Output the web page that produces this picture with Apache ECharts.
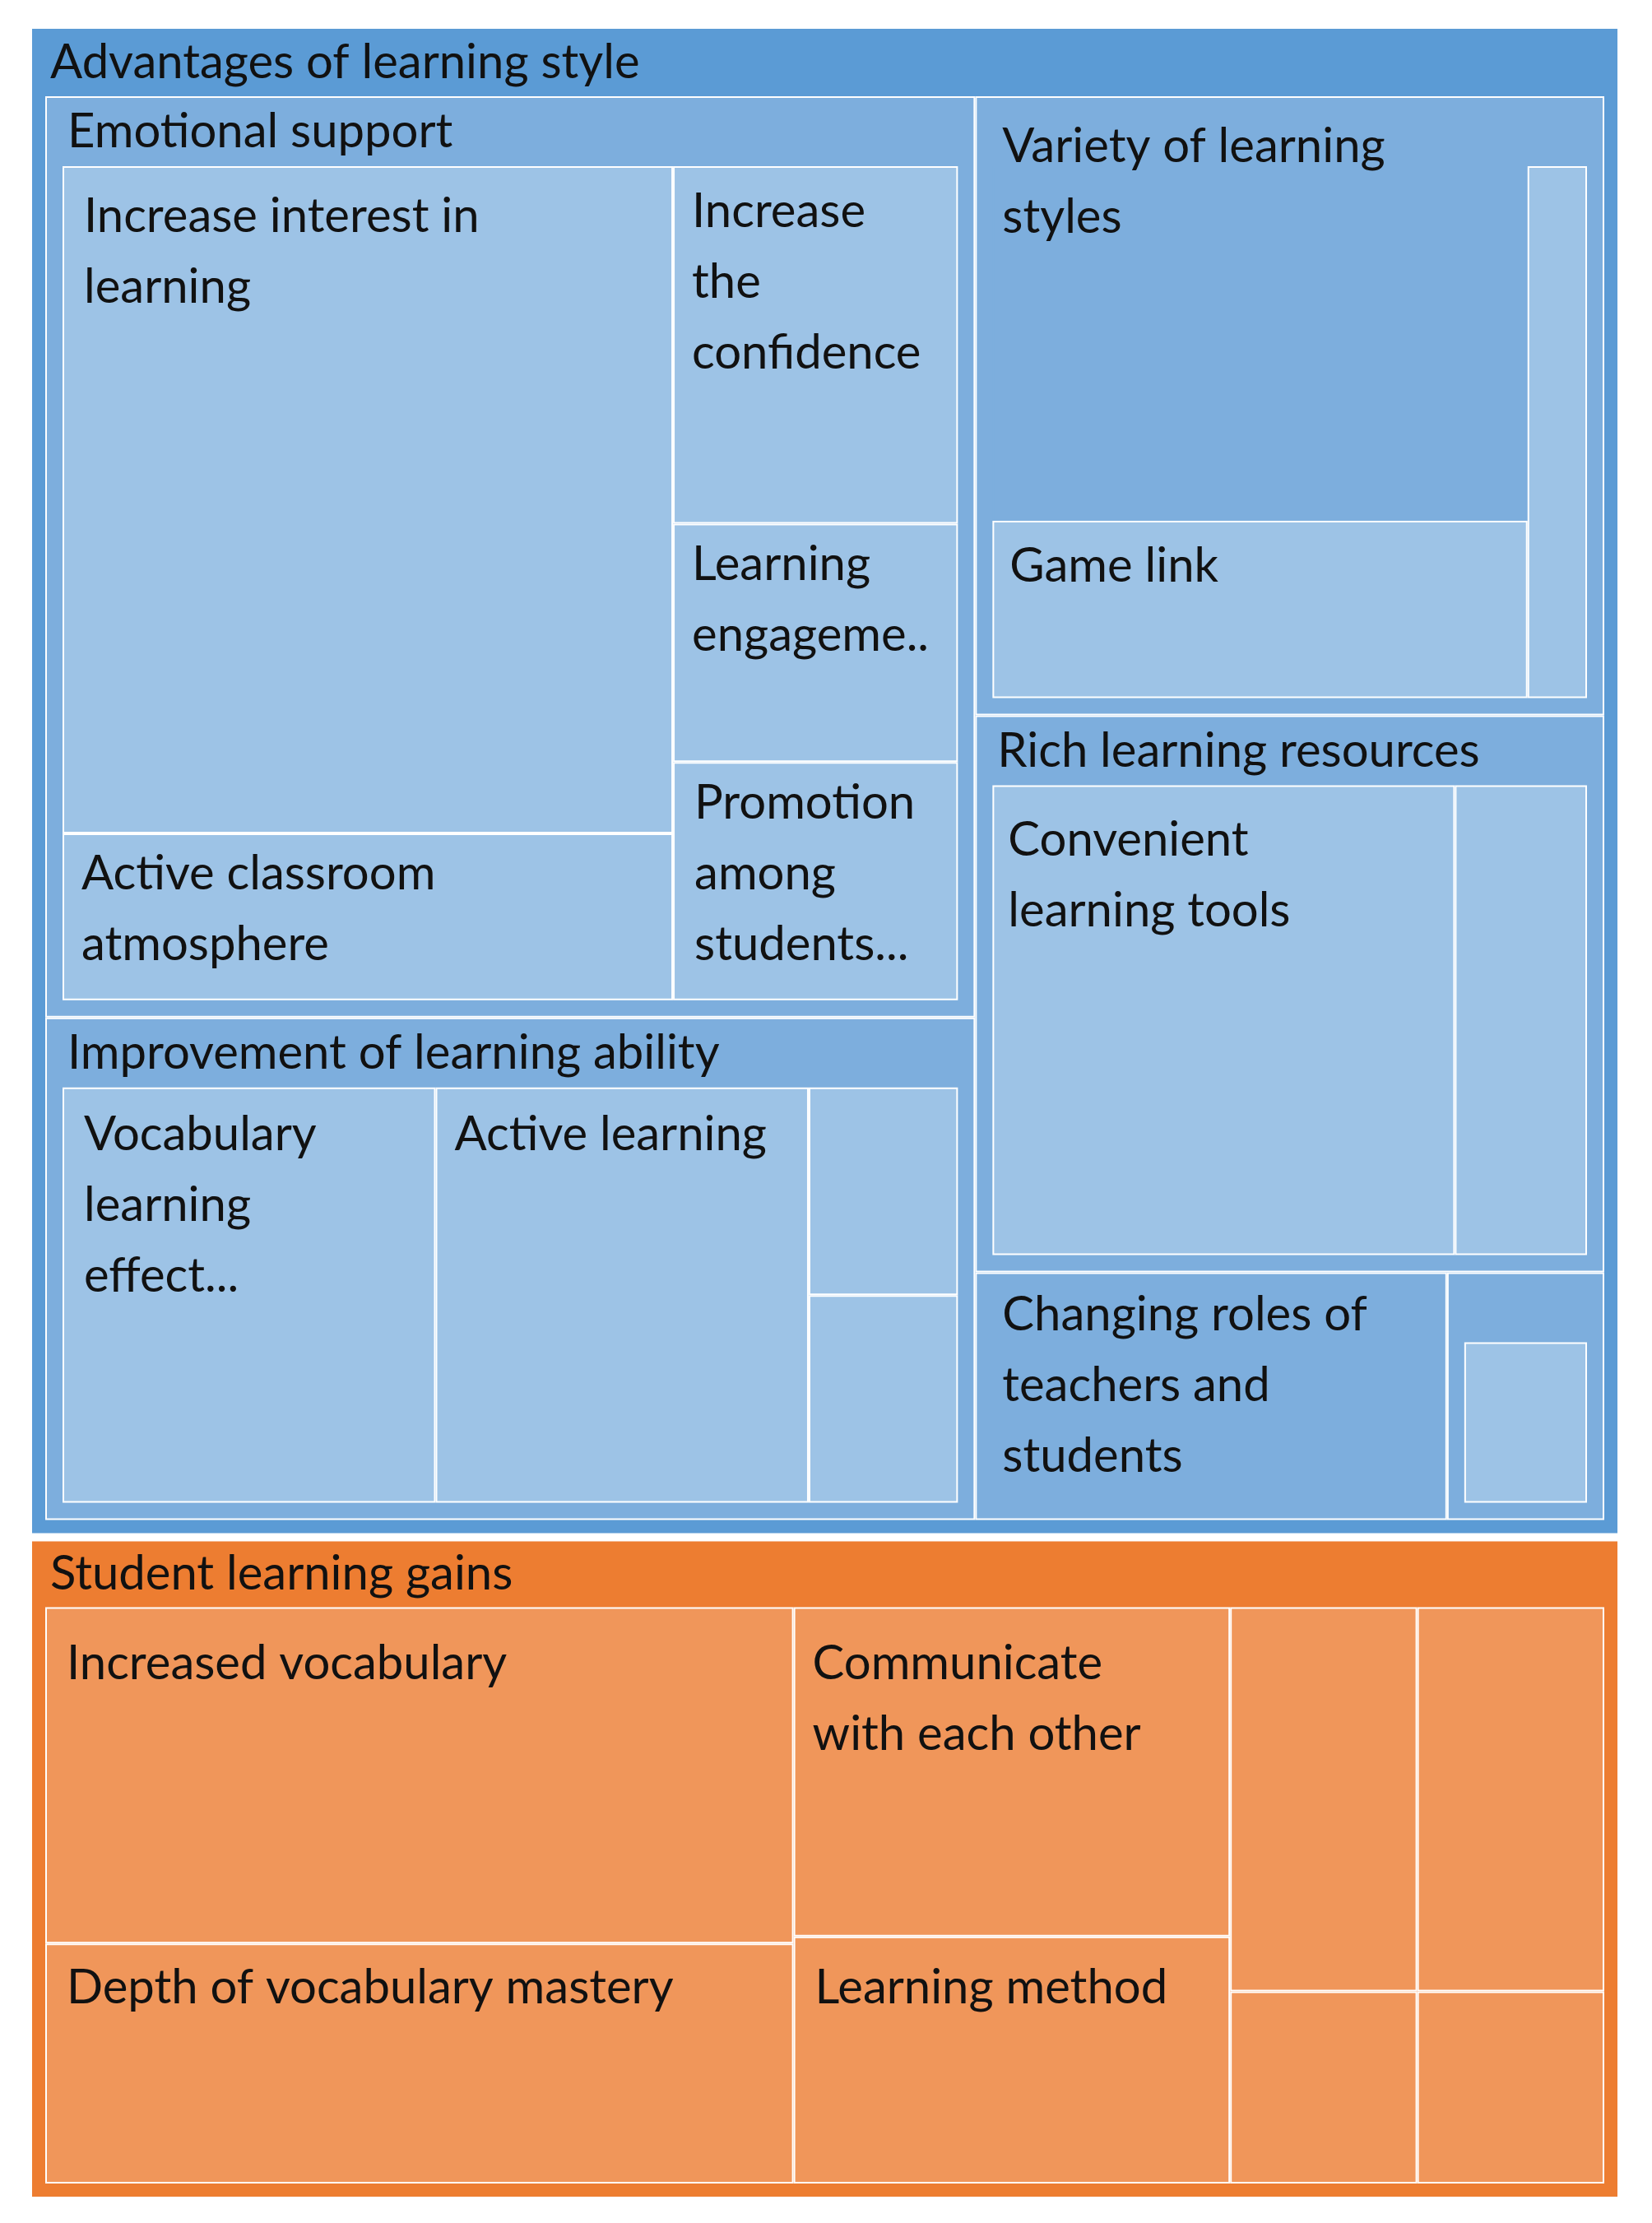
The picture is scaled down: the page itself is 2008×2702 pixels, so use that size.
<!DOCTYPE html>
<html>
<head>
<meta charset="utf-8">
<script src="https://cdn.jsdelivr.net/npm/echarts@6/dist/echarts.min.js"></script>
<style>
  html, body { margin: 0; padding: 0; background: #ffffff; }
  #chart { width: 2008px; height: 2702px; }
</style>
</head>
<body>
<div id="chart"></div>
<script>
// ---------------- DATA ----------------
const topGroupNames = ['Advantages of learning style', 'Student learning gains'];

const advantageSectionNames = ['Emotional support', 'Improvement of learning ability',
  'Variety of learning styles', 'Rich learning resources'];

const emotionalLabels = ['Increase interest in\nlearning', 'Active classroom\natmosphere',
  'Increase\nthe\nconfidence', 'Learning\nengageme..', 'Promotion\namong\nstudents...'];
const emotionalValues = [24, 6, 6, 4, 4];

const abilityLabels = ['Vocabulary\nlearning\neffect...', 'Active learning', '', ''];
const abilityValues = [10, 10, 2, 2];

const varietyLabels = ['Variety of learning\nstyles', 'Game link', ''];
const varietyValues = [12, 6, 2];

const resourceLabels = ['Convenient\nlearning tools', ''];
const resourceValues = [14, 4];

const rolesLabel = 'Changing roles of\nteachers and\nstudents';
const rolesValue = 6;

const otherLabels = [''];
const otherValues = [2];

const gainsLabels = ['Increased vocabulary', 'Depth of vocabulary mastery',
  'Communicate\nwith each other', 'Learning method', '', '', '', ''];
const gainsValues = [14, 10, 8, 6, 4, 4, 2, 2];

// ---------------- STYLE ----------------
const C = {
  blue: '#5B9BD5', mid: '#7DAEDD', light: '#9DC3E6',
  orange: '#ED7D31', lightOrange: '#F0965A', white: '#FFFFFF', text: '#111111'
};
const FONT = 'Lato';
// label offsets (style only) keyed by label text
const labelPos = {
  'Increase interest in\nlearning': [24, 16],
  'Active classroom\natmosphere': [21, 4],
  'Increase\nthe\nconfidence': [21, 10],
  'Learning\nengageme..': [21, 5],
  'Promotion\namong\nstudents...': [24, 5],
  'Vocabulary\nlearning\neffect...': [24, 12],
  'Active learning': [21, 12],
  'Variety of learning\nstyles': [10, -69],
  'Game link': [19, 10],
  'Convenient\nlearning tools': [17, 22],
  'Changing roles of\nteachers and\nstudents': [31, 7],
  'Increased vocabulary': [24, 24],
  'Depth of vocabulary mastery': [24, 9],
  'Communicate\nwith each other': [21, 24],
  'Learning method': [24, 17]
};

function leaf(name, value, color, borderColor) {
  return {
    name: name, value: value,
    itemStyle: { color: color, borderColor: borderColor || C.white, borderWidth: 2, gapWidth: 0 },
    label: { show: true, position: labelPos[name] || [22, 12] }
  };
}
function leaves(labels, values, color) {
  return labels.map((n, i) => leaf(n, values[i], color));
}
function section(name, children, transparentHeader) {
  return {
    name: name, children: children,
    itemStyle: { borderColor: C.mid, borderWidth: 19, gapWidth: 0 },
    upperLabel: transparentHeader
      ? { show: true, height: 83, color: 'rgba(0,0,0,0)' }
      : { show: true, height: 83 }
  };
}
function framed(node) {
  return {
    name: node.name, children: [node],
    itemStyle: { borderColor: C.white, borderWidth: 2, gapWidth: 0 },
    upperLabel: { show: false, height: 0 }
  };
}

const varietyChildren = [
  leaf(varietyLabels[0], varietyValues[0], C.mid, C.mid),
  leaf(varietyLabels[1], varietyValues[1], C.light),
  leaf(varietyLabels[2], varietyValues[2], C.light)
];

const advantages = {
  name: topGroupNames[0],
  itemStyle: { borderColor: C.blue, borderWidth: 16, gapWidth: 0 },
  upperLabel: { show: true, height: 82 },
  children: [
    framed(section(advantageSectionNames[0], leaves(emotionalLabels, emotionalValues, C.light))),
    framed(section(advantageSectionNames[1], leaves(abilityLabels, abilityValues, C.light))),
    framed(section(advantageSectionNames[2], varietyChildren, true)),
    framed(section(advantageSectionNames[3], leaves(resourceLabels, resourceValues, C.light))),
    leaf(rolesLabel, rolesValue, C.mid),
    framed(section('', leaves(otherLabels, otherValues, C.light)))
  ]
};

const gains = {
  name: topGroupNames[1],
  itemStyle: { borderColor: C.orange, borderWidth: 16, gapWidth: 0 },
  upperLabel: { show: true, height: 80 },
  children: leaves(gainsLabels, gainsValues, C.lightOrange)
};

const chart = echarts.init(document.getElementById('chart'), null, { renderer: 'canvas' });
chart.setOption({
  animation: false,
  backgroundColor: '#ffffff',
  tooltip: { show: false },
  series: [{
    type: 'treemap',
    left: 39, top: 35, width: 1927, height: 2635,
    roam: false, nodeClick: false,
    breadcrumb: { show: false },
    sort: false,
    visibleMin: 0,
    itemStyle: { borderWidth: 0, gapWidth: 0, borderColor: C.white },
    label: {
      show: true, position: [22, 12], padding: 0,
      fontFamily: FONT, fontSize: 58, lineHeight: 86, color: C.text,
      overflow: 'truncate'
    },
    upperLabel: {
      show: false, position: [6, '50%'], verticalAlign: 'middle', padding: 0,
      fontFamily: FONT, fontSize: 58, lineHeight: 62, color: C.text
    },
    emphasis: { disabled: true },
    levels: [
      { itemStyle: { borderWidth: 0, gapWidth: 10, borderColor: C.white } }
    ],
    data: [advantages, gains]
  }]
});
</script>
</body>
</html>
